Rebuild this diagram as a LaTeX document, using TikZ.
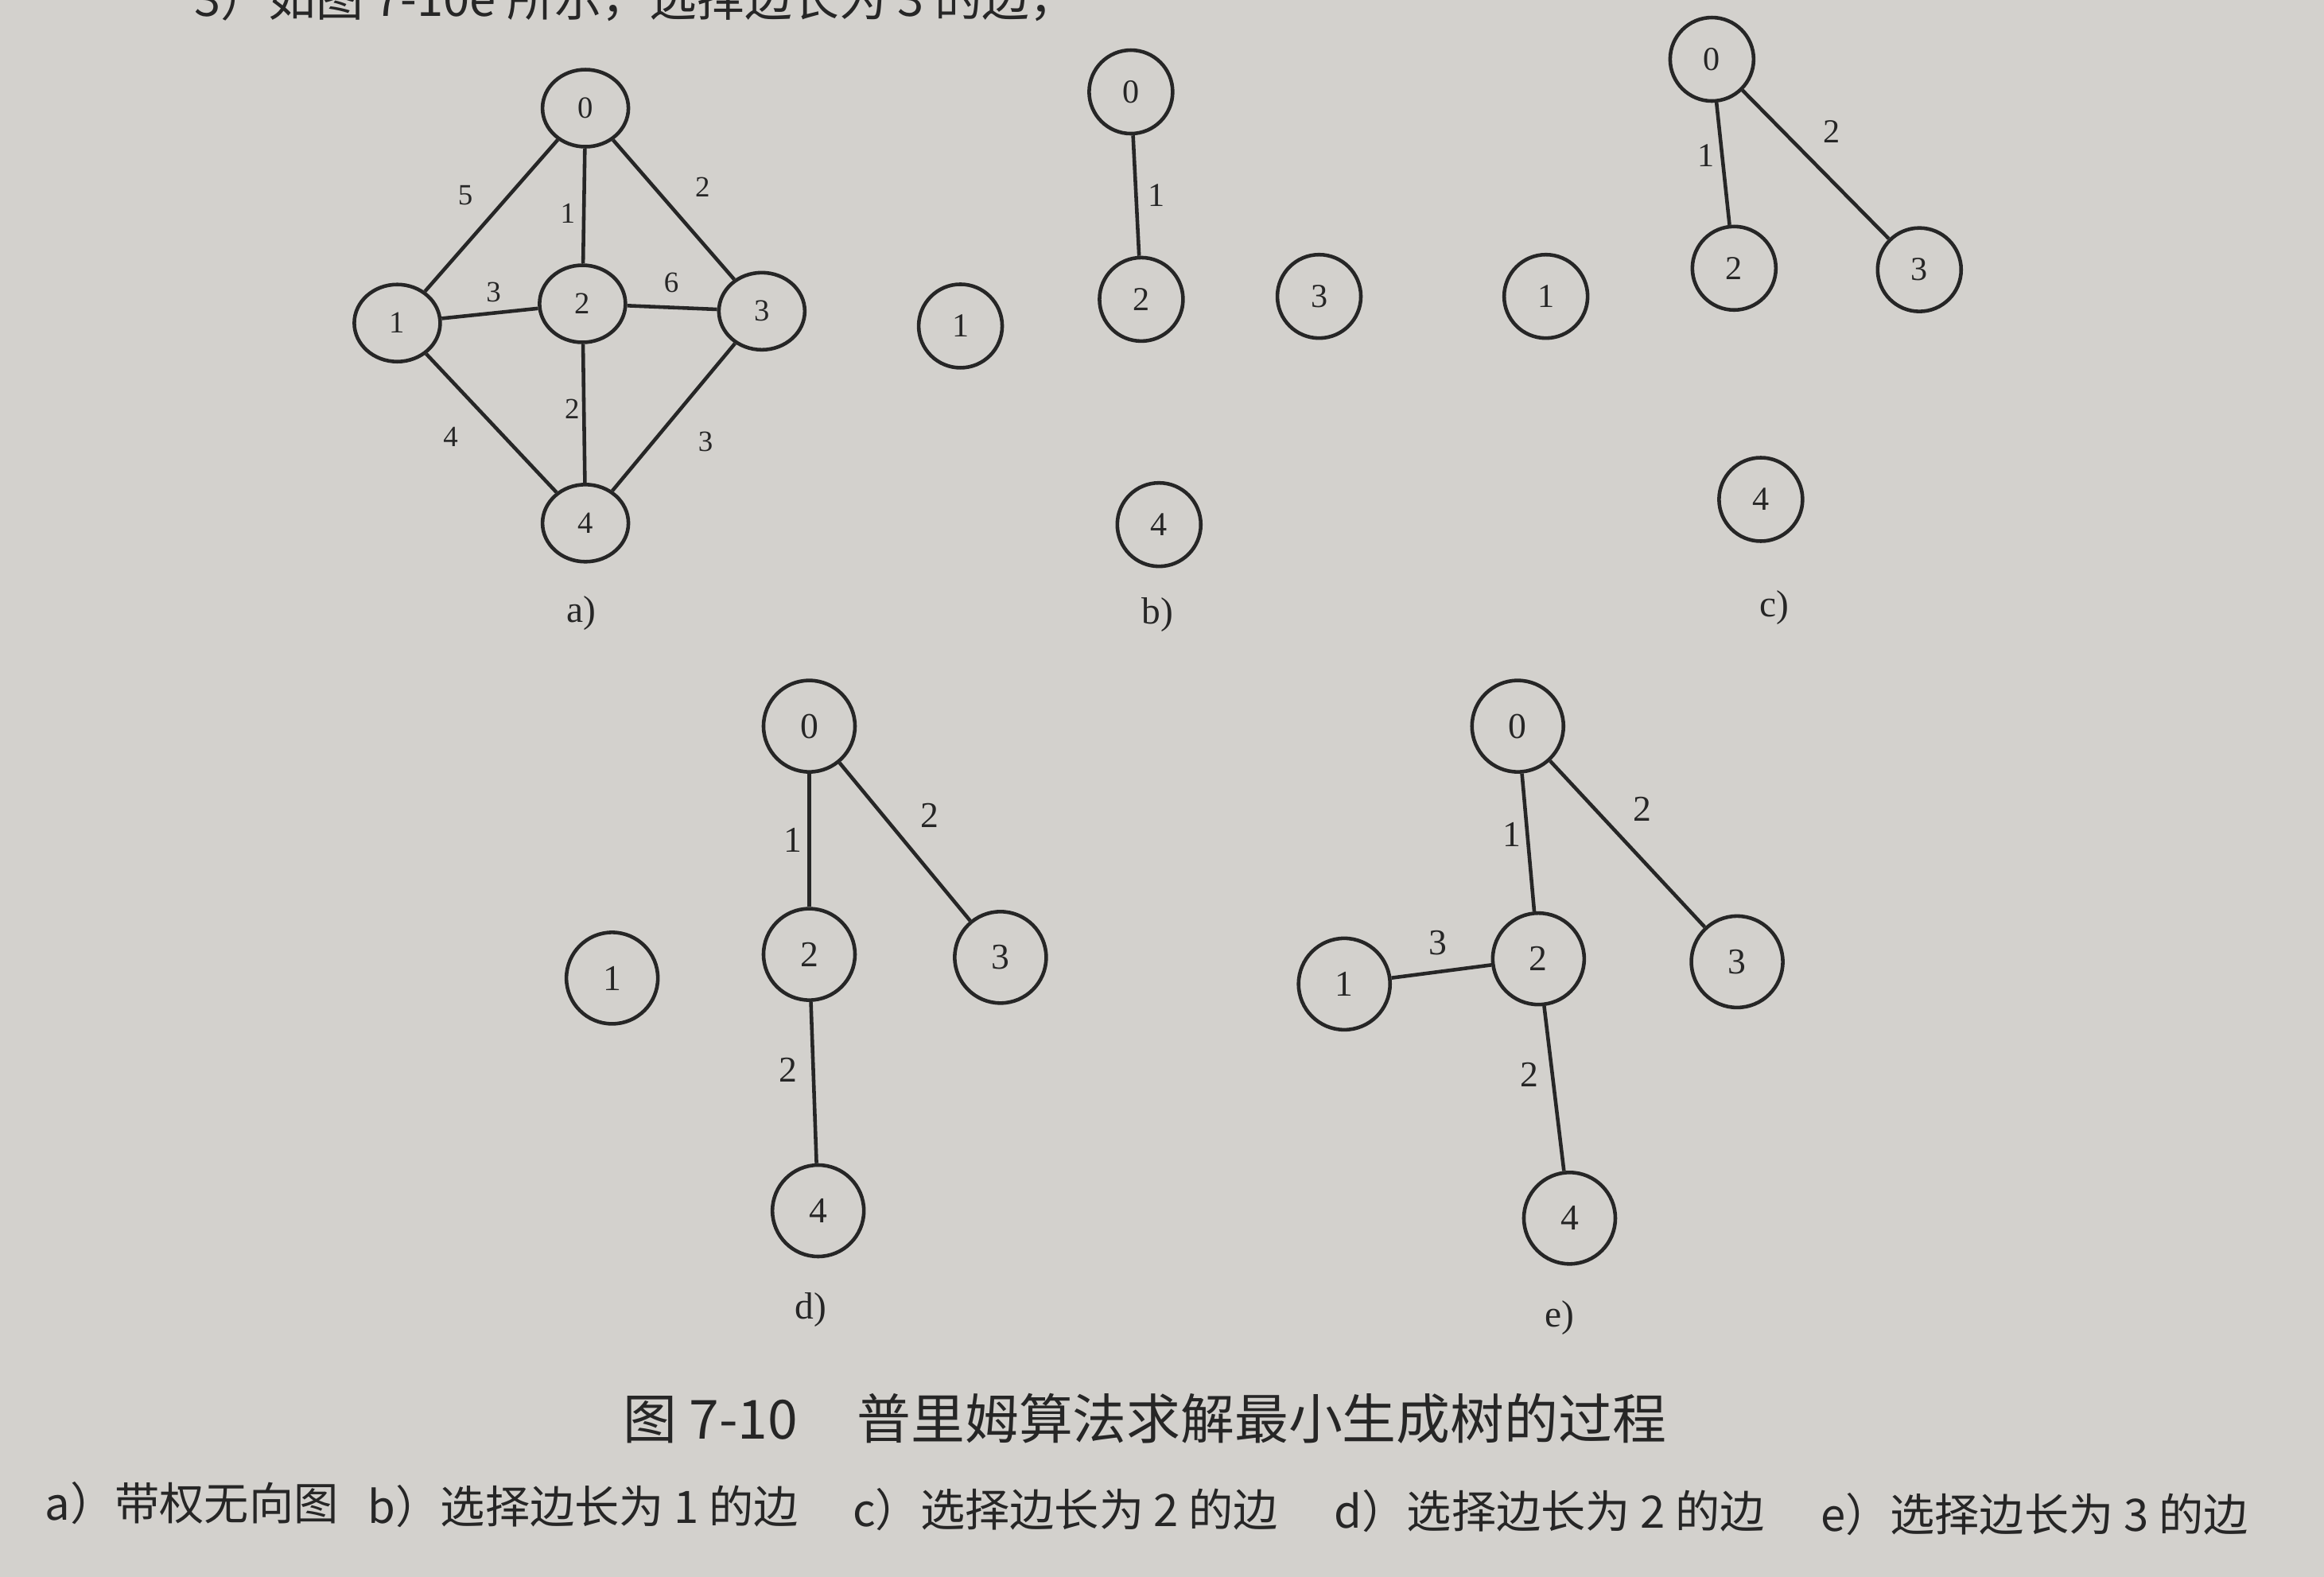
\documentclass[tikz,border=0pt]{standalone}
\usepackage{fontspec}
\setmainfont{Liberation Serif}
\newfontfamily\cjk{Noto Sans CJK SC}
\usepackage{xcolor}
\usetikzlibrary{shapes.geometric}
\definecolor{paper}{HTML}{D3D1CD}
\definecolor{ink}{HTML}{262626}
\tikzset{
  vtxa/.style={ellipse, draw=ink, line width=1.3pt, minimum width=1.08cm, minimum height=0.97cm, inner sep=0pt, text=ink, font=\fontsize{11}{11}\selectfont},
  vtx/.style={circle, draw=ink, line width=1.3pt, minimum size=1.05cm, inner sep=0pt, text=ink, font=\fontsize{12}{12}\selectfont},
  vtxbig/.style={vtx, minimum size=1.15cm, font=\fontsize{13}{13}\selectfont},
  link/.style={draw=ink, line width=1.3pt},
  wt/.style={text=ink, inner sep=0pt, font=\fontsize{10.5}{10.5}\selectfont},
  wtmid/.style={wt, font=\fontsize{12}{12}\selectfont},
  wtbig/.style={wt, font=\fontsize{13}{13}\selectfont},
  sublab/.style={text=ink, inner sep=0pt, font=\fontsize{13.5}{13.5}\selectfont},
  capline/.style={text=ink, anchor=base west, inner sep=0pt, font=\cjk\fontsize{16}{16}\selectfont},
}

\begin{document}
\begin{tikzpicture}[x=0.18635mm, y=-0.18635mm]
  \useasboundingbox (0,0) rectangle (1568,1064);
  \fill[paper] (0,0) rectangle (1568,1064);
  \node[capline, font=\cjk\fontsize{17}{17}\selectfont] (prev) at (131,11) {3）如图 7-10e 所示，选择边长为 3 的边，};

  % a) weighted graph
  \node[vtxa] (a0) at (395,73) {0};
  \node[vtxa] (a1) at (268,218) {1};
  \node[vtxa] (a2) at (393,205) {2};
  \node[vtxa] (a3) at (514,210) {3};
  \node[vtxa] (a4) at (395,353) {4};
  \draw[link] (a0) -- (a1);
  \draw[link] (a0) -- (a2);
  \draw[link] (a0) -- (a3);
  \draw[link] (a1) -- (a2);
  \draw[link] (a2) -- (a3);
  \draw[link] (a1) -- (a4);
  \draw[link] (a2) -- (a4);
  \draw[link] (a3) -- (a4);
  \node[wt] (wa01) at (314,132) {5};
  \node[wt] (wa02) at (383,144) {1};
  \node[wt] (wa03) at (474,126) {2};
  \node[wt] (wa12) at (333,197) {3};
  \node[wt] (wa23) at (453,191) {6};
  \node[wt] (wa24) at (386,276) {2};
  \node[wt] (wa14) at (304,295) {4};
  \node[wt] (wa34) at (476,298) {3};
  \node[sublab] (la) at (392,414) {a)};

  % b) edge of length 1
  \node[vtx] (b0) at (763,62) {0};
  \node[vtx] (b1) at (648,220) {1};
  \node[vtx] (b2) at (770,202) {2};
  \node[vtx] (b3) at (890,200) {3};
  \node[vtx] (b4) at (782,354) {4};
  \draw[link] (b0) -- (b2);
  \node[wtmid] (wb02) at (780,132) {1};
  \node[sublab] (lb) at (781,415) {b)};

  % c) edge of length 2
  \node[vtx] (c0) at (1155,40) {0};
  \node[vtx] (c1) at (1043,200) {1};
  \node[vtx] (c2) at (1170,181) {2};
  \node[vtx] (c3) at (1295,182) {3};
  \node[vtx] (c4) at (1188,337) {4};
  \draw[link] (c0) -- (c2);
  \draw[link] (c0) -- (c3);
  \node[wtmid] (wc02) at (1151,105) {1};
  \node[wtmid] (wc03) at (1236,89) {2};
  \node[sublab] (lc) at (1197,410) {c)};

  % d) second edge of length 2
  \node[vtxbig] (d0) at (546,490) {0};
  \node[vtxbig] (d1) at (413,660) {1};
  \node[vtxbig] (d2) at (546,644) {2};
  \node[vtxbig] (d3) at (675,646) {3};
  \node[vtxbig] (d4) at (552,817) {4};
  \draw[link] (d0) -- (d2);
  \draw[link] (d0) -- (d3);
  \draw[link] (d2) -- (d4);
  \node[wtbig] (wd02) at (535,567) {1};
  \node[wtbig] (wd03) at (627,550) {2};
  \node[wtbig] (wd24) at (532,722) {2};
  \node[sublab] (ld) at (547,884) {d)};

  % e) edge of length 3
  \node[vtxbig] (e0) at (1024,490) {0};
  \node[vtxbig] (e1) at (907,664) {1};
  \node[vtxbig] (e2) at (1038,647) {2};
  \node[vtxbig] (e3) at (1172,649) {3};
  \node[vtxbig] (e4) at (1059,822) {4};
  \draw[link] (e0) -- (e2);
  \draw[link] (e0) -- (e3);
  \draw[link] (e1) -- (e2);
  \draw[link] (e2) -- (e4);
  \node[wtbig] (we02) at (1020,563) {1};
  \node[wtbig] (we03) at (1108,546) {2};
  \node[wtbig] (we12) at (970,636) {3};
  \node[wtbig] (we24) at (1032,725) {2};
  \node[sublab] (le) at (1052,889) {e)};

  % caption
  \node[capline, font=\cjk\fontsize{19.3}{19.3}\selectfont] (title) at (420,971) {图 7-10\hspace{1.1em}普里姆算法求解最小生成树的过程};
  \node[capline] (sa) at (30,1026) {a）带权无向图};
  \node[capline] (sb) at (248,1028) {b）选择边长为 1 的边};
  \node[capline] (sc) at (575,1030) {c）选择边长为 2 的边};
  \node[capline] (sd) at (900,1031) {d）选择边长为 2 的边};
  \node[capline] (se) at (1228,1033) {e）选择边长为 3 的边};
\end{tikzpicture}
\end{document}
